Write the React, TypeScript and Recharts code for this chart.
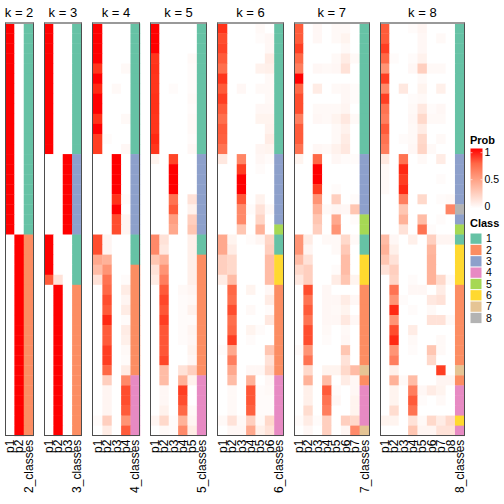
import { ScatterChart, Scatter, XAxis, YAxis } from 'recharts';

/* membership probabilities per sample (41 rows), one array per k */
const probK2 = [
  [1, 0], [1, 0], [1, 0], [1, 0], [1, 0], [1, 0], [1, 0], [1, 0], [1, 0], [1, 0], [1, 0],
  [1, 0], [1, 0], [1, 0], [1, 0], [1, 0], [1, 0], [1, 0], [1, 0], [1, 0], [1, 0],
  [0, 1], [0, 1], [0, 1], [0, 1], [0, 1], [0, 1], [0, 1], [0, 1], [0, 1], [0, 1],
  [0, 1], [0, 1], [0, 1], [0, 1], [0, 1], [0, 1], [0, 1], [0, 1], [0, 1], [0, 1],
];
const classK2 = [1, 1, 1, 1, 1, 1, 1, 1, 1, 1, 1, 1, 1, 1, 1, 1, 1, 1, 1, 1, 1,
  2, 2, 2, 2, 2, 2, 2, 2, 2, 2, 2, 2, 2, 2, 2, 2, 2, 2, 2, 2];

const probK3 = [
  [1, 0, 0], [1, 0, 0], [1, 0, 0], [1, 0, 0], [1, 0, 0], [1, 0, 0], [1, 0, 0], [1, 0, 0], [1, 0, 0], [1, 0, 0],
  [1, 0, 0], [1, 0, 0], [1, 0, 0],
  [0, 0, 1], [0, 0, 1], [0, 0, 1], [0, 0, 1], [0, 0, 1], [0, 0, 1], [0, 0, 1], [0, 0, 1],
  [1, 0, 0], [1, 0, 0], [1, 0, 0], [1, 0, 0], [0.8, 0.15, 0],
  [0, 1, 0], [0, 1, 0], [0, 1, 0], [0, 1, 0], [0, 1, 0], [0, 1, 0], [0, 1, 0], [0, 1, 0], [0, 1, 0], [0, 1, 0],
  [0, 1, 0], [0, 1, 0], [0, 1, 0], [0, 1, 0], [0, 1, 0],
];
const classK3 = [1, 1, 1, 1, 1, 1, 1, 1, 1, 1, 1, 1, 1, 3, 3, 3, 3, 3, 3, 3, 3,
  1, 1, 1, 1, 1, 2, 2, 2, 2, 2, 2, 2, 2, 2, 2, 2, 2, 2, 2, 2];

const probK4 = [
  [1, 0, 0, 0], [1, 0, 0, 0], [1, 0, 0, 0], [1, 0, 0, 0], [0.92, 0, 0, 0.03], [1, 0, 0, 0],
  [0.95, 0, 0.03, 0], [1, 0, 0, 0], [1, 0, 0, 0], [0.93, 0, 0, 0.03], [1, 0, 0, 0],
  [0.9, 0.02, 0, 0], [0.9, 0, 0, 0.04],
  [0, 0, 1, 0], [0, 0, 1, 0], [0, 0, 1, 0], [0, 0, 1, 0], [0, 0, 0.93, 0.02], [0, 0, 1, 0],
  [0, 0, 0.85, 0.05], [0, 0, 0.85, 0.05],
  [0.85, 0.05, 0, 0], [0.85, 0.05, 0, 0], [0.45, 0.4, 0, 0], [0.35, 0.55, 0, 0], [0.15, 0.7, 0, 0.02],
  [0, 0.75, 0, 0.1], [0, 0.85, 0, 0.05], [0, 0.8, 0, 0.1], [0, 0.95, 0, 0.02], [0, 0.8, 0, 0.1],
  [0, 0.8, 0, 0.08], [0, 0.9, 0, 0.03], [0, 0.9, 0, 0.02], [0, 0.75, 0, 0.1],
  [0, 0.25, 0, 0.6], [0, 0.05, 0, 0.85], [0, 0.05, 0, 0.85], [0, 0.05, 0, 0.8],
  [0.02, 0.25, 0, 0.55], [0, 0.1, 0, 0.8],
];
const classK4 = [1, 1, 1, 1, 1, 1, 1, 1, 1, 1, 1, 1, 1, 3, 3, 3, 3, 3, 3, 3, 3,
  1, 1, 1, 2, 2, 2, 2, 2, 2, 2, 2, 2, 2, 2, 4, 4, 4, 4, 4, 4];

const probK5 = [
  [1, 0, 0, 0, 0], [1, 0, 0, 0, 0], [1, 0, 0, 0, 0], [0.92, 0, 0, 0, 0.03], [0.93, 0, 0, 0, 0.02],
  [0.92, 0, 0, 0, 0.02], [0.92, 0, 0.02, 0, 0.02], [0.93, 0, 0, 0, 0.03], [0.93, 0, 0, 0, 0.02],
  [0.92, 0, 0, 0, 0.03], [0.92, 0, 0, 0, 0.03], [0.95, 0, 0, 0, 0.02], [0.92, 0, 0, 0, 0.04],
  [0.06, 0, 0.88, 0, 0], [0, 0, 1, 0, 0], [0, 0, 1, 0, 0], [0, 0, 1, 0, 0], [0, 0, 0.7, 0, 0.15],
  [0, 0, 0.8, 0, 0.07], [0, 0, 0.5, 0, 0.25], [0, 0, 0.45, 0, 0.3],
  [0.6, 0.15, 0, 0, 0.08], [0.6, 0.12, 0, 0, 0.08], [0.3, 0.4, 0, 0, 0.08], [0.15, 0.55, 0, 0, 0.08],
  [0.1, 0.65, 0, 0, 0.08], [0, 0.8, 0, 0.03, 0.05], [0, 0.87, 0, 0.02, 0.03], [0, 0.82, 0, 0.02, 0.07],
  [0, 0.9, 0, 0.02, 0.02], [0, 0.82, 0, 0.02, 0.05], [0, 0.82, 0, 0.02, 0.04], [0, 0.82, 0, 0, 0.06],
  [0, 0.87, 0, 0, 0.04], [0, 0.35, 0, 0.15, 0.25],
  [0, 0.35, 0, 0.4, 0.07], [0, 0.04, 0, 0.9, 0], [0, 0.04, 0, 0.85, 0], [0, 0.07, 0, 0.75, 0.03],
  [0.05, 0.2, 0.02, 0.4, 0.05], [0, 0.03, 0.02, 0.6, 0.1],
];
const classK5 = [1, 1, 1, 1, 1, 1, 1, 1, 1, 1, 1, 1, 1, 3, 3, 3, 3, 3, 3, 3, 3,
  1, 1, 2, 2, 2, 2, 2, 2, 2, 2, 2, 2, 2, 2, 4, 4, 4, 4, 4, 4];

const probK6 = [
  [0.93, 0, 0, 0, 0.03, 0], [0.85, 0, 0, 0, 0.02, 0.04], [0.88, 0, 0, 0, 0, 0.04], [0.8, 0, 0, 0, 0, 0.1],
  [0.72, 0, 0, 0, 0.07, 0.08], [0.92, 0, 0, 0, 0, 0.03], [0.8, 0, 0.04, 0, 0.03, 0.03], [0.9, 0, 0, 0, 0, 0.03],
  [0.8, 0, 0, 0, 0.04, 0.04], [0.72, 0, 0, 0, 0.06, 0.06], [0.8, 0, 0, 0, 0, 0.07], [0.78, 0, 0, 0, 0, 0.1],
  [0.7, 0, 0, 0, 0.05, 0.06],
  [0.12, 0, 0.62, 0, 0.04, 0.02], [0, 0, 0.9, 0, 0.02, 0], [0, 0, 1, 0, 0, 0], [0, 0, 1, 0, 0, 0],
  [0, 0, 0.82, 0, 0.07, 0], [0, 0, 0.6, 0.02, 0.15, 0.03], [0, 0, 0.6, 0, 0.22, 0], [0, 0, 0.3, 0, 0.4, 0],
  [0.45, 0.06, 0, 0.02, 0.05, 0.22], [0.45, 0.1, 0, 0, 0, 0.25], [0.25, 0.2, 0, 0, 0, 0.35],
  [0.25, 0.2, 0, 0, 0, 0.35], [0.1, 0.35, 0, 0, 0, 0.35],
  [0, 0.75, 0, 0.06, 0, 0.04], [0, 0.72, 0, 0, 0, 0.1], [0, 0.85, 0, 0.03, 0, 0.02], [0, 0.72, 0, 0, 0, 0.12],
  [0, 0.75, 0, 0.06, 0.02, 0], [0, 0.9, 0, 0.02, 0, 0], [0.02, 0.45, 0, 0, 0, 0.3], [0, 0.65, 0, 0, 0, 0.15],
  [0, 0.45, 0, 0.04, 0.04, 0.2],
  [0, 0.35, 0, 0.4, 0, 0.04], [0, 0.03, 0, 0.82, 0.02, 0.03], [0, 0.03, 0, 0.82, 0.02, 0.02],
  [0, 0.03, 0, 0.78, 0.02, 0.02], [0.03, 0.15, 0.03, 0.25, 0.03, 0.2], [0, 0.04, 0.04, 0.45, 0.08, 0.15],
];
const classK6 = [1, 1, 1, 1, 1, 1, 1, 1, 1, 1, 1, 1, 1, 3, 3, 3, 3, 3, 3, 3, 5,
  1, 1, 6, 6, 6, 2, 2, 2, 2, 2, 2, 2, 2, 2, 4, 4, 4, 4, 4, 4];

const probK7 = [
  [0.8, 0, 0.04, 0, 0.03, 0.03, 0], [0.8, 0, 0.04, 0, 0.03, 0.06, 0], [0.9, 0, 0, 0, 0, 0.03, 0],
  [0.75, 0, 0, 0, 0.03, 0.1, 0.03], [0.65, 0, 0.04, 0.03, 0.04, 0.15, 0], [1, 0, 0, 0, 0, 0, 0],
  [0.75, 0, 0.1, 0, 0.03, 0.04, 0.02], [0.85, 0, 0, 0, 0, 0.04, 0.02], [0.85, 0, 0.03, 0.03, 0.03, 0.05, 0],
  [0.65, 0, 0.04, 0.03, 0.06, 0.12, 0.03], [0.8, 0, 0, 0, 0.03, 0.07, 0], [0.8, 0, 0, 0, 0.03, 0.1, 0],
  [0.7, 0, 0.04, 0.03, 0.07, 0.12, 0],
  [0.06, 0, 0.75, 0, 0.04, 0.02, 0.02], [0, 0, 1, 0, 0, 0, 0], [0, 0, 1, 0, 0, 0, 0],
  [0, 0, 0.9, 0, 0.02, 0, 0], [0, 0, 0.55, 0, 0.25, 0, 0.02], [0, 0, 0.4, 0.03, 0.05, 0.04, 0.3],
  [0, 0, 0.3, 0, 0.45, 0, 0.02], [0, 0, 0.25, 0, 0.55, 0, 0],
  [0.55, 0.1, 0, 0.03, 0.03, 0.2, 0.03], [0.55, 0.05, 0, 0, 0.03, 0.28, 0], [0.35, 0.15, 0, 0, 0, 0.35, 0],
  [0.2, 0.25, 0, 0, 0.02, 0.35, 0], [0.12, 0.25, 0, 0, 0.1, 0.3, 0.06],
  [0, 0.85, 0, 0.04, 0, 0, 0], [0, 0.7, 0, 0.04, 0.04, 0.1, 0.04], [0, 0.8, 0, 0.04, 0.03, 0.06, 0],
  [0, 0.7, 0, 0.04, 0.04, 0.12, 0.04], [0, 0.85, 0, 0.03, 0, 0.03, 0], [0, 0.85, 0, 0.02, 0, 0.04, 0],
  [0.02, 0.55, 0, 0, 0, 0.3, 0], [0, 0.7, 0, 0, 0, 0.15, 0],
  [0, 0.2, 0, 0.06, 0.06, 0.2, 0.35], [0, 0.4, 0, 0.35, 0, 0.1, 0.04],
  [0, 0.08, 0, 0.8, 0.02, 0, 0.04], [0, 0.08, 0, 0.7, 0.04, 0, 0.06], [0, 0.18, 0, 0.65, 0, 0, 0.06],
  [0.02, 0.1, 0.02, 0.25, 0, 0.25, 0.2], [0, 0.04, 0, 0.25, 0, 0.05, 0.6],
];
const classK7 = [1, 1, 1, 1, 1, 1, 1, 1, 1, 1, 1, 1, 1, 3, 3, 3, 3, 3, 3, 5, 5,
  1, 1, 6, 6, 6, 2, 2, 2, 2, 2, 2, 2, 2, 7, 2, 4, 4, 4, 4, 7];

const probK8 = [
  [0.8, 0, 0, 0.02, 0.05, 0, 0, 0], [0.8, 0, 0, 0, 0.04, 0, 0.03, 0], [0.9, 0, 0, 0, 0.04, 0, 0, 0],
  [0.75, 0.02, 0, 0.02, 0.07, 0, 0, 0], [0.55, 0, 0, 0.04, 0.25, 0.03, 0.03, 0], [0.9, 0, 0, 0, 0.03, 0, 0, 0],
  [0.6, 0, 0.12, 0, 0.06, 0, 0.08, 0], [0.9, 0, 0, 0.02, 0.03, 0, 0, 0], [0.7, 0, 0, 0.03, 0.12, 0.02, 0.04, 0],
  [0.65, 0, 0, 0.04, 0.2, 0.03, 0.03, 0], [0.8, 0, 0, 0.03, 0.1, 0, 0, 0], [0.7, 0, 0.02, 0.03, 0.2, 0, 0.03, 0],
  [0.65, 0, 0, 0.04, 0.22, 0.03, 0, 0],
  [0.12, 0, 0.7, 0, 0.03, 0, 0.1, 0], [0.03, 0, 0.95, 0, 0, 0, 0, 0], [0.03, 0, 0.9, 0, 0, 0, 0.02, 0],
  [0.03, 0, 0.95, 0, 0, 0, 0, 0], [0, 0, 0.65, 0, 0.2, 0, 0.02, 0.03], [0, 0, 0.3, 0, 0, 0, 0, 0.62],
  [0, 0, 0.4, 0, 0.35, 0, 0.02, 0], [0, 0, 0.15, 0, 0.7, 0.02, 0, 0],
  [0.35, 0.04, 0, 0.08, 0, 0.25, 0.05, 0.05], [0.4, 0.08, 0, 0, 0, 0.38, 0, 0], [0.3, 0.15, 0, 0, 0, 0.4, 0, 0],
  [0.15, 0.25, 0, 0, 0, 0.4, 0, 0], [0, 0.22, 0, 0.02, 0, 0.4, 0.2, 0.03],
  [0, 0.7, 0, 0.04, 0.04, 0, 0.1, 0], [0, 0.55, 0.02, 0, 0, 0.12, 0.15, 0], [0, 0.95, 0, 0.02, 0, 0.03, 0, 0],
  [0, 0.55, 0, 0, 0, 0.15, 0.15, 0.03], [0, 0.85, 0, 0.1, 0, 0, 0, 0], [0, 0.95, 0, 0.03, 0, 0, 0.03, 0],
  [0, 0.55, 0, 0.02, 0, 0.3, 0.03, 0], [0, 0.65, 0, 0, 0, 0.2, 0, 0],
  [0, 0.08, 0, 0, 0, 0, 0.9, 0], [0, 0.4, 0.03, 0.35, 0, 0, 0.05, 0.05],
  [0, 0.06, 0, 0.65, 0.04, 0.1, 0.06, 0], [0, 0.06, 0, 0.8, 0.02, 0, 0.03, 0], [0, 0.18, 0, 0.7, 0, 0, 0, 0],
  [0.06, 0.06, 0, 0.15, 0.03, 0.2, 0.1, 0.2], [0, 0, 0, 0.3, 0.05, 0.05, 0.15, 0.15],
];
const classK8 = [1, 1, 1, 1, 1, 1, 1, 1, 1, 1, 1, 1, 1, 3, 3, 3, 3, 3, 8, 3, 5,
  1, 6, 6, 6, 6, 2, 2, 2, 2, 2, 2, 2, 2, 7, 2, 4, 4, 4, 6, 4];

const CLASS_COLORS = ['#66C2A5', '#FC8D62', '#8DA0CB', '#E78AC3', '#A6D854', '#FFD92F', '#E5C494', '#B3B3B3'];
const CLASS_LABELS = ['1', '2', '3', '4', '5', '6', '7', '8'];
const PROB_TICKS = ['1', '0.5', '0'];

const FONT = '"Liberation Sans", Arial, Helvetica, sans-serif';
const N_ROWS = 41;
const PLOT_TOP = 23.3;
const PLOT_BOTTOM = 435.7;
const COL_W = 9.37;
const GAP = 11;
const LEFT0 = 5;

/* white -> red interpolated in LAB space, like colorRamp2 */
function probColor(t: number): string {
  const L = 100 + t * (53.2408 - 100);
  const a = t * 80.0925;
  const b = t * 67.2032;
  const fy = (L + 16) / 116;
  const fx = fy + a / 500;
  const fz = fy - b / 200;
  const finv = (v: number) => (v ** 3 > 0.008856 ? v ** 3 : (v - 16 / 116) / 7.787);
  const X = 0.95047 * finv(fx);
  const Y = finv(fy);
  const Z = 1.08883 * finv(fz);
  const lin = [
    3.2404542 * X - 1.5371385 * Y - 0.4985314 * Z,
    -0.969266 * X + 1.8760108 * Y + 0.041556 * Z,
    0.0556434 * X - 0.2040259 * Y + 1.0572252 * Z,
  ];
  const [r, g, bl] = lin.map((c) => {
    const v = c <= 0.0031308 ? 12.92 * c : 1.055 * Math.pow(c, 1 / 2.4) - 0.055;
    return Math.round(Math.min(1, Math.max(0, v)) * 255);
  });
  return `rgb(${r},${g},${bl})`;
}

interface Cell {
  x: number;
  y: number;
  fill: string;
}

function RotatedTick(props: { x?: number; y?: number; payload?: { value: number }; labels: string[] }) {
  const { x = 0, y = 0, payload, labels } = props;
  if (!payload) return null;
  const label = labels[Math.floor(payload.value)];
  return (
    <g transform={`translate(${x},${y})`}>
      <text x={0} y={0} dy="0.36em" textAnchor="end" fill="#000" fontSize={12} fontFamily={FONT} transform="rotate(-90)">
        {label}
      </text>
    </g>
  );
}

function Panel({ k, probs, classes, left }: { k: number; probs: number[][]; classes: number[]; left: number }) {
  const nCol = k + 1;
  const width = nCol * COL_W;
  const cellH = (PLOT_BOTTOM - PLOT_TOP) / N_ROWS;
  const cells: Cell[] = [];
  probs.forEach((row, r) => {
    row.forEach((p, c) => cells.push({ x: c + 0.5, y: r + 0.5, fill: probColor(p) }));
    cells.push({ x: k + 0.5, y: r + 0.5, fill: CLASS_COLORS[classes[r] - 1] });
  });
  const labels = [...probs[0].map((_, i) => `p${i + 1}`), `${k}_classes`];
  const ticks = labels.map((_, i) => i + 0.5);

  const renderCell = (props: { cx?: number; cy?: number; payload?: Cell }) => {
    const { cx = 0, cy = 0, payload } = props;
    return (
      <rect
        x={cx - COL_W / 2}
        y={cy - cellH / 2}
        width={COL_W + 0.4}
        height={cellH + 0.4}
        fill={payload?.fill}
      />
    );
  };

  return (
    <div style={{ position: 'absolute', left, top: 0, width, height: 504 }}>
      <div
        style={{
          position: 'absolute',
          left: -20,
          width: width + 40,
          top: 6,
          textAlign: 'center',
          fontFamily: FONT,
          fontSize: 13,
          lineHeight: '13px',
        }}
      >
        k = {k}
      </div>
      <ScatterChart width={width} height={504} margin={{ top: PLOT_TOP, right: 0, bottom: 0, left: 0 }}>
        <XAxis
          type="number"
          dataKey="x"
          domain={[0, nCol]}
          ticks={ticks}
          interval={0}
          height={504 - PLOT_BOTTOM}
          axisLine={false}
          tickLine={false}
          tickSize={0}
          tickMargin={4}
          tick={<RotatedTick labels={labels} />}
        />
        <YAxis type="number" dataKey="y" domain={[0, N_ROWS]} reversed hide width={0} />
        <Scatter data={cells} shape={renderCell} isAnimationActive={false} />
      </ScatterChart>
      {/* panel frame */}
      <div
        style={{
          position: 'absolute',
          left: -0.5,
          top: PLOT_TOP - 1.5,
          width: width + 1,
          height: PLOT_BOTTOM - PLOT_TOP + 2,
          boxSizing: 'border-box',
          borderLeft: '1px solid #4d4d4d',
          borderRight: '1px solid #4d4d4d',
          borderBottom: '1px solid #4d4d4d',
          borderTop: '2px solid #999',
          pointerEvents: 'none',
        }}
      />
    </div>
  );
}

function Legends() {
  return (
    <svg style={{ position: 'absolute', left: 0, top: 0 }} width={504} height={504}>
      <defs>
        <linearGradient id="probGrad" x1="0" y1="0" x2="0" y2="1">
          <stop offset="0%" stopColor={probColor(1)} />
          <stop offset="25%" stopColor={probColor(0.75)} />
          <stop offset="50%" stopColor={probColor(0.5)} />
          <stop offset="75%" stopColor={probColor(0.25)} />
          <stop offset="100%" stopColor={probColor(0)} />
        </linearGradient>
      </defs>
      <text x={470} y={144} fontSize={11} fontWeight="bold" fontFamily={FONT}>Prob</text>
      <rect x={470.5} y={148.5} width={12} height={60} fill="url(#probGrad)" />
      {PROB_TICKS.map((t, i) => (
        <g key={t}>
          <line x1={470.5} x2={472.5} y1={152.7 + i * 27} y2={152.7 + i * 27} stroke="#fff" strokeWidth={0.6} />
          <line x1={480.5} x2={482.5} y1={152.7 + i * 27} y2={152.7 + i * 27} stroke="#fff" strokeWidth={0.6} />
          <text x={484.5} y={152.7 + i * 27} dy="0.36em" fontSize={10.5} fontFamily={FONT}>{t}</text>
        </g>
      ))}
      <text x={470} y={227} fontSize={11} fontWeight="bold" fontFamily={FONT}>Class</text>
      {CLASS_LABELS.map((c, i) => (
        <g key={c}>
          <rect x={470.5} y={233.5 + i * 11.33} width={11} height={10.3} fill={CLASS_COLORS[i]} />
          <text x={486} y={238.7 + i * 11.33} dy="0.36em" fontSize={10.5} fontFamily={FONT}>{c}</text>
        </g>
      ))}
    </svg>
  );
}

const PANELS = [
  { k: 2, probs: probK2, classes: classK2 },
  { k: 3, probs: probK3, classes: classK3 },
  { k: 4, probs: probK4, classes: classK4 },
  { k: 5, probs: probK5, classes: classK5 },
  { k: 6, probs: probK6, classes: classK6 },
  { k: 7, probs: probK7, classes: classK7 },
  { k: 8, probs: probK8, classes: classK8 },
];

export default function App() {
  let left = LEFT0;
  const placed = PANELS.map((p) => {
    const x = left;
    left += (p.k + 1) * COL_W + GAP;
    return { ...p, left: x };
  });
  return (
    <div style={{ position: 'absolute', left: 0, top: 0, width: 504, height: 504, background: '#fff', overflow: 'hidden' }}>
      <style>{'.recharts-surface { overflow: visible; }'}</style>
      {placed.map((p) => (
        <Panel key={p.k} k={p.k} probs={p.probs} classes={p.classes} left={p.left} />
      ))}
      <Legends />
    </div>
  );
}
